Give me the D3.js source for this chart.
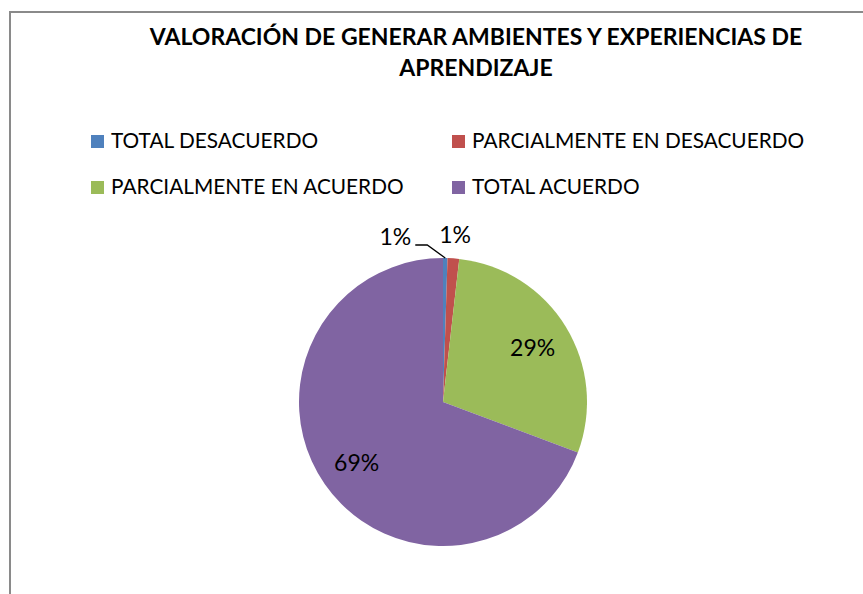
<!DOCTYPE html>
<html>
<head>
<meta charset="utf-8">
<script src="https://cdn.jsdelivr.net/npm/d3@7"></script>
<style>
  body { margin: 0; background: #fff; }
  svg { display: block; font-family: Lato, "Open Sans", sans-serif; }
</style>
</head>
<body>
<svg id="chart" width="863" height="594"></svg>
<script>
const titleLines = ['VALORACIÓN DE GENERAR AMBIENTES Y EXPERIENCIAS DE', 'APRENDIZAJE'];
const categories = ['TOTAL DESACUERDO', 'PARCIALMENTE EN DESACUERDO', 'PARCIALMENTE EN ACUERDO', 'TOTAL ACUERDO'];
const values = [0.5, 1.3, 28.9, 69.3];
const labels = ['1%', '1%', '29%', '69%'];
const colors = ['#4F81BD', '#C0504D', '#9BBB59', '#8064A2'];

const width = 863, height = 594;
const cx = 443, cy = 402, r = 144;

const svg = d3.select('#chart');

// chart frame, runs off the right and bottom of the picture
svg.append('rect')
  .attr('x', 10).attr('y', 12)
  .attr('width', width + 20).attr('height', height + 20)
  .attr('fill', 'none')
  .attr('stroke', '#8a8a8a')
  .attr('stroke-width', 2);

// title
svg.append('text')
  .attr('text-anchor', 'middle')
  .attr('font-weight', 'bold')
  .attr('font-size', 23)
  .attr('fill', '#000')
  .selectAll('tspan')
  .data(titleLines)
  .enter().append('tspan')
    .attr('x', 476)
    .attr('y', (d, i) => 45 + i * 31)
    .text(d => d);

// legend
const legend = svg.append('g').attr('class', 'legend');
const item = legend.selectAll('g')
  .data(categories)
  .enter().append('g')
    .attr('transform', (d, i) => `translate(${i % 2 ? 452 : 91},${i < 2 ? 135 : 181})`);
item.append('rect')
  .attr('width', 13).attr('height', 13)
  .attr('fill', (d, i) => colors[i]);
item.append('text')
  .attr('x', 20).attr('y', 13)
  .attr('font-size', 20.8)
  .attr('fill', '#000')
  .text(d => d);

// pie
const pie = d3.pie().sort(null).value(d => d);
const arcs = pie(values);
const arc = d3.arc().innerRadius(0).outerRadius(r);

const g = svg.append('g').attr('transform', `translate(${cx},${cy})`);
g.selectAll('path')
  .data(arcs)
  .enter().append('path')
    .attr('d', arc)
    .attr('fill', (d, i) => colors[i]);

// labels inside the big slices
const inner = d3.arc().innerRadius(r * 0.73).outerRadius(r * 0.73);
const outer = d3.arc().innerRadius(r * 1.17).outerRadius(r * 1.17);

const lab = g.append('g')
  .attr('font-size', 23)
  .attr('fill', '#000')
  .attr('text-anchor', 'middle')
  .attr('dominant-baseline', 'central');

[2, 3].forEach(i => {
  const [x, y] = inner.centroid(arcs[i]);
  lab.append('text').attr('x', x).attr('y', y).text(labels[i]);
});

// red slice label just outside
{
  const [x, y] = outer.centroid(arcs[1]);
  lab.append('text').attr('x', x).attr('y', y).text(labels[1]);
}

// blue slice label pulled left with a leader line
{
  const edge = d3.arc().innerRadius(r).outerRadius(r).centroid(arcs[0]);
  const elbow = [edge[0] - 18, edge[1] - 13];
  const end = [elbow[0] - 12, elbow[1]];
  g.append('polyline')
    .attr('points', [edge, elbow, end].map(p => p.join(',')).join(' '))
    .attr('fill', 'none')
    .attr('stroke', '#000')
    .attr('stroke-width', 1.3);
  lab.append('text')
    .attr('x', end[0] - 4).attr('y', end[1] - 9)
    .attr('text-anchor', 'end')
    .text(labels[0]);
}
</script>
</body>
</html>
